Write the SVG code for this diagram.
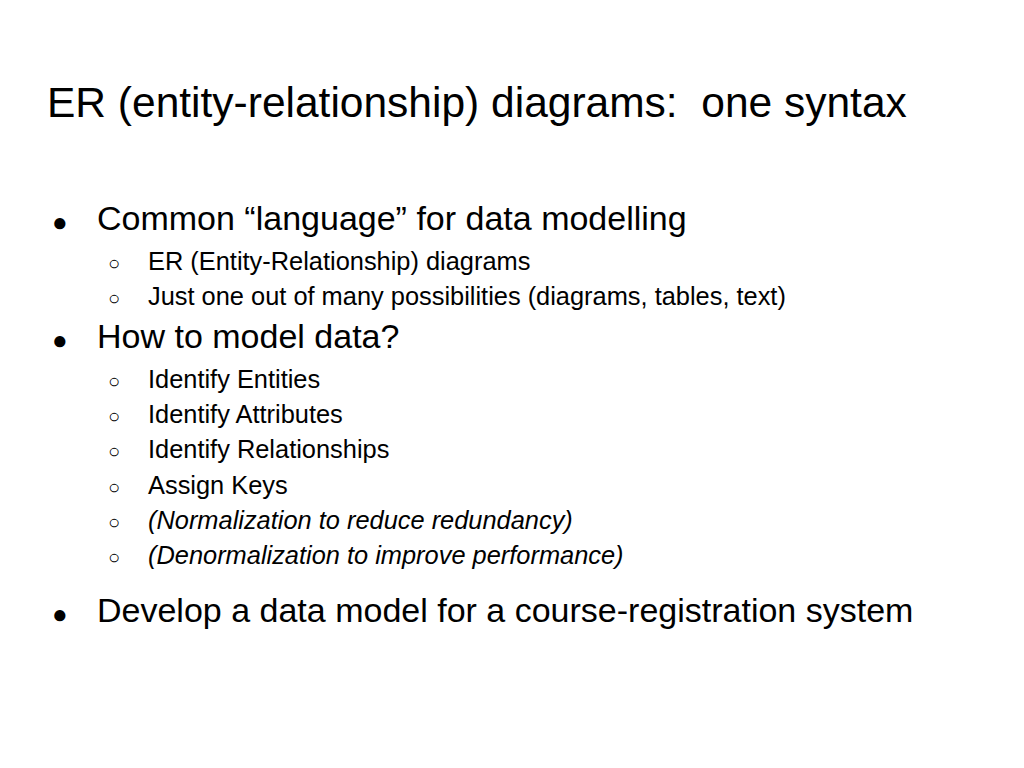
<svg xmlns="http://www.w3.org/2000/svg" width="1024" height="768" viewBox="0 0 1024 768">
<style>
text{font-family:"Liberation Sans",Arial,sans-serif;fill:#000}
.t{font-size:42.5px}
.l1{font-size:34px}
.l2{font-size:25.4px}
.b1{font-size:26px}
.b2{font-size:20px}
.i{font-style:italic}
</style>
<rect width="1024" height="768" fill="#fff"/>
<text class="t" x="47" y="117" xml:space="preserve">ER (entity-relationship) diagrams:  one syntax</text>
<g id="list">
<text class="b1" x="52" y="231">●</text>
<text class="l1" x="97" y="230">Common “language” for data modelling</text>
<text class="b2" x="108" y="270">○</text>
<text class="l2" x="148" y="270">ER (Entity-Relationship) diagrams</text>
<text class="b2" x="108" y="305">○</text>
<text class="l2" x="148" y="305">Just one out of many possibilities (diagrams, tables, text)</text>
<text class="b1" x="52" y="349">●</text>
<text class="l1" x="97" y="348">How to model data?</text>
<text class="b2" x="108" y="388">○</text>
<text class="l2" x="148" y="388">Identify Entities</text>
<text class="b2" x="108" y="423">○</text>
<text class="l2" x="148" y="423">Identify Attributes</text>
<text class="b2" x="108" y="458">○</text>
<text class="l2" x="148" y="458">Identify Relationships</text>
<text class="b2" x="108" y="494">○</text>
<text class="l2" x="148" y="494">Assign Keys</text>
<text class="b2" x="108" y="529">○</text>
<text class="l2 i" x="148" y="529">(Normalization to reduce redundancy)</text>
<text class="b2" x="108" y="564">○</text>
<text class="l2 i" x="148" y="564">(Denormalization to improve performance)</text>
<text class="b1" x="52" y="623">●</text>
<text class="l1" x="97" y="622">Develop a data model for a course-registration system</text>
</g>
</svg>
